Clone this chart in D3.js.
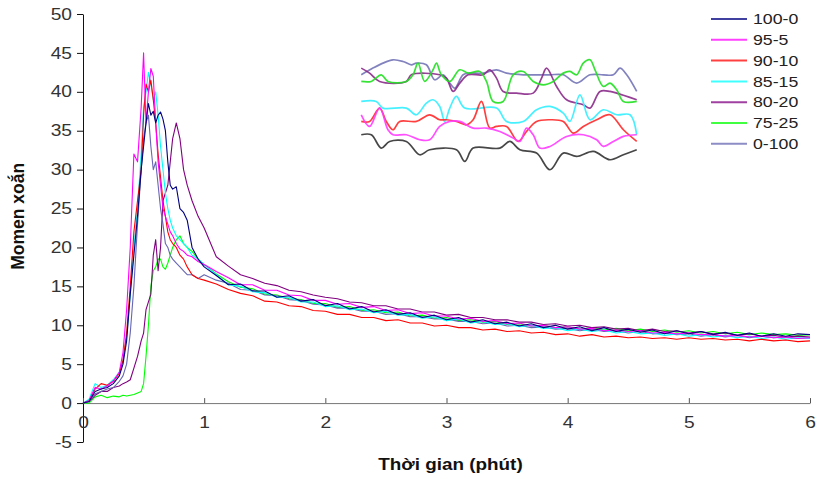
<!DOCTYPE html>
<html>
<head>
<meta charset="utf-8">
<script src="https://cdn.jsdelivr.net/npm/d3@7"></script>
<style>
  body { margin: 0; background: #fff; }
  svg { display: block; font-family: "Liberation Sans", Arial, sans-serif; }
</style>
</head>
<body>
<svg id="chart" width="817" height="479"></svg>
<script>
// time axis (minutes): dense around the peak, every 0.1 min in the tail
const riseTime = [0,0.05,0.1,0.15,0.2,0.25,0.3,0.33,0.36,0.39,0.42,0.45,0.48,0.5,0.52,0.54,0.56,0.58,0.6,0.62,0.64,0.66,0.68,0.7,0.72,0.74,0.77,0.8,0.83,0.86,0.9,0.95,1.0];
const tailTime = [1.1,1.2,1.3,1.4,1.5,1.6,1.7,1.8,1.9,2.0,2.1,2.2,2.3,2.4,2.5,2.6,2.7,2.8,2.9,3.0,3.1,3.2,3.3,3.4,3.5,3.6,3.7,3.8,3.9,4.0,
  4.1,4.2,4.3,4.4,4.5,4.6,4.7,4.8,4.9,5.0,5.1,5.2,5.3,5.4,5.5,5.6,5.7,5.8,5.9,6.0];
const time = riseTime.concat(tailTime);

// torque values, one per time point
const v100_0 = [0,0.2,1.5,1.8,2,2.5,3.5,5,8,14,19,24,30,33,36,38.5,37,37.5,36,37,37.4,36.5,35,31,28,27.5,27.8,25,24.5,23.5,20,18.5,17.5,
  16.4,15.2,15.3,14.4,14.4,13.6,13.8,13.1,13.3,12.5,12.8,12.1,12.4,11.7,12.0,11.4,11.6,11.0,11.3,10.7,11.0,10.4,10.7,10.2,10.4,9.9,10.2,9.7,10.0,9.5,
  9.8,9.3,9.7,9.2,9.5,9.1,9.4,8.9,9.3,8.9,9.2,8.8,9.1,8.7,9.0,8.6,8.9,8.6,8.9,8.8];
const v95_5 = [0,0.3,2,1.8,2.2,2.8,4,6.5,12,20,32,31,38,45,36,40,43,42,36,31,28,25,24,23,22,21.5,20.5,19.8,19.5,19,18.8,18.2,17.8,
  16.9,16.1,15.2,15.2,14.5,14.5,13.9,13.8,13.2,13.2,12.7,12.8,12.3,12.4,11.9,12.0,11.5,11.6,11.2,11.2,10.8,10.9,10.5,10.6,10.2,10.3,9.9,10.0,9.7,9.8,
  9.5,9.6,9.3,9.4,9.2,9.3,9.0,9.1,8.9,9.0,8.8,8.8,8.6,8.7,8.5,8.6,8.4,8.5,8.3,8.4];
const v90_10 = [0,0.3,1.8,2.5,2.3,2.8,3.8,5.5,9,15,22,26,30,37,41,40,41.5,39,36,32,29,26,24,22,21,20.5,20,19,18.5,17.5,16.5,16,15.8,
  15.3,14.6,14.1,13.8,13.1,13.0,12.5,12.4,11.9,11.8,11.4,11.4,11.0,11.0,10.6,10.7,10.3,10.3,9.9,10.0,9.7,9.7,9.4,9.5,9.2,9.3,9.0,9.1,8.8,8.9,
  8.6,8.8,8.5,8.6,8.4,8.5,8.3,8.4,8.2,8.4,8.2,8.3,8.1,8.2,8.0,8.2,8.0,8.1,7.9,8.0];
const v85_15 = [0,0.5,2.5,2,2.3,3,4,5.5,8.5,14,20,25,32,38,40,42.5,41,39,40,37,33,30,27,25,23.5,22.5,21.5,21,20.5,20,19,18.5,17.8,
  16.5,15.2,15.0,14.3,14.2,13.6,13.6,13.0,13.0,12.4,12.5,12.0,12.1,11.6,11.8,11.3,11.4,10.9,11.1,10.6,10.8,10.3,10.5,10.1,10.2,9.8,10.0,9.6,9.7,9.3,
  9.5,9.2,9.4,9.0,9.2,8.9,9.0,8.7,8.9,8.6,8.8,8.5,8.7,8.4,8.6,8.3,8.5,8.2,8.4,8.3];
const v80_20 = [0,0.2,1,1.5,1.5,2,2.2,2.5,2.7,3,4.5,6,8,9,12,13,14,19,21,17,20,26,27,28,31,34,36,34,30,28,26,24,22.5,
  18.8,17.6,16.5,16.0,15.4,15.1,14.5,14.3,13.9,13.6,13.4,13.0,12.9,12.5,12.5,12.1,12.1,11.7,11.7,11.3,11.4,11.0,11.0,10.7,10.7,10.4,10.4,10.1,10.2,9.9,
  10.0,9.7,9.8,9.5,9.6,9.3,9.5,9.2,9.3,9.0,9.2,8.9,9.0,8.7,8.9,8.6,8.7,8.5,8.6,8.5];
const v75_25 = [0,0,0.8,1,0.7,0.9,0.8,1,0.9,1,1.1,1.3,1.5,2.5,6,10,15,17,17.5,18.5,18.5,17.5,17.2,18,19,20,21,21.5,20.5,20,19.5,18.5,17.8,
  16.6,15.6,14.9,14.7,14.0,13.9,13.4,13.3,12.8,12.8,12.3,12.4,11.9,12.0,11.6,11.7,11.2,11.3,10.9,11.0,10.6,10.7,10.4,10.5,10.1,10.2,9.9,10.0,9.7,9.8,
  9.5,9.7,9.4,9.6,9.3,9.5,9.2,9.4,9.1,9.3,9.0,9.2,8.9,9.1,8.8,9.0,8.8,8.9,8.7,8.8];
const v0_100 = [0,0.2,1.2,1.5,1.8,2,2.8,3.5,5,9,15,23,30,34,36,37,33,30,31,28,25,23,20.5,20,19,18.5,18,17.5,17,16.5,16.5,16,16.5,
  15.8,15.4,14.6,14.5,13.9,13.8,13.3,13.2,12.7,12.6,12.2,12.2,11.8,11.8,11.4,11.5,11.1,11.1,10.8,10.8,10.5,10.5,10.2,10.3,9.9,10.0,9.7,9.8,9.5,9.6,
  9.3,9.5,9.2,9.3,9.0,9.2,8.9,9.0,8.8,8.9,8.6,8.8,8.5,8.7,8.4,8.6,8.4,8.5,8.3,8.4];

const seriesNames = ["100-0","95-5","90-10","85-15","80-20","75-25","0-100"];
const seriesValues = [v100_0, v95_5, v90_10, v85_15, v80_20, v75_25, v0_100];
const seriesColors = ["#000080","#ff00ff","#ff0000","#00ffff","#800080","#00ff00","#6666b3"];
const drawOrder = [5, 4, 6, 3, 2, 1, 0];

const yTicks = [-5,0,5,10,15,20,25,30,35,40,45,50];
const xTicks = [0,1,2,3,4,5,6];

// wavy decoration pasted inside the plot (own units: 0-860 across, 0-390 down)
const waveBlack = [[35,255],[65,255],[95,295],[120,275],[170,275],[210,315],[240,300],[320,300],[345,335],[370,295],[450,295],[480,275],[510,300],[560,310],[600,360],[640,310],[680,320],[730,305],[780,330],[820,315],[860,300]];
const waveMagenta = [[35,195],[60,230],[90,175],[115,240],[130,255],[170,255],[210,270],[240,270],[270,230],[300,215],[330,215],[370,235],[410,235],[450,245],[490,265],[510,275],[530,235],[550,255],[570,295],[600,290],[650,260],[700,255],[740,270],[760,290],[790,275],[820,260],[860,255]];
const waveRed = [[35,215],[60,215],[90,175],[110,215],[130,240],[150,215],[200,215],[240,195],[270,210],[290,210],[320,215],[350,225],[370,210],[395,155],[420,235],[440,230],[470,230],[505,275],[530,245],[560,215],[600,210],[640,215],[670,250],[700,230],[740,210],[780,195],[820,240],[860,275]];
const waveCyan = [[35,155],[80,155],[100,175],[170,175],[200,195],[230,160],[250,150],[270,170],[285,215],[300,175],[320,140],[345,175],[440,175],[470,215],[520,215],[560,180],[600,170],[640,190],[660,215],[690,135],[720,210],[760,180],[800,195],[840,195],[860,255]];
const waveGreen = [[35,95],[65,95],[95,75],[115,95],[170,95],[190,75],[205,40],[225,95],[250,60],[260,40],[275,75],[300,95],[330,60],[355,70],[390,65],[410,95],[430,155],[460,155],[490,75],[520,65],[550,95],[580,105],[610,95],[640,70],[660,65],[680,75],[700,40],[720,30],[735,60],[760,110],[780,100],[800,120],[820,155],[860,155]];
const wavePurple = [[35,55],[60,70],[90,95],[170,95],[185,75],[270,75],[290,85],[310,125],[330,100],[355,75],[400,75],[420,60],[440,85],[460,125],[500,130],[550,130],[575,85],[590,55],[620,110],[650,150],[700,165],[720,175],[750,125],[780,125],[800,130],[860,150]];
const waveSlate = [[35,75],[70,55],[100,40],[130,30],[160,35],[185,45],[200,40],[230,45],[255,90],[280,75],[300,100],[315,115],[340,75],[360,70],[400,70],[440,60],[470,70],[520,75],[560,75],[600,75],[640,75],[680,100],[720,75],[760,75],[790,75],[810,55],[830,75],[860,125]];
const waves = [waveSlate, wavePurple, waveGreen, waveCyan, waveRed, waveMagenta, waveBlack];
const waveColors = ["#7474b8","#8a2a8a","#22e022","#33eeff","#ff2a2a","#ff3cff","#333333"];

const svg = d3.select("#chart");
const margin = {top: 14, right: 7, bottom: 37, left: 83};
const W = 817, H = 479;

const x = d3.scaleLinear().domain([0, 6]).range([margin.left, W - margin.right]);
const y = d3.scaleLinear().domain([-5, 50]).range([H - margin.bottom, margin.top]);

// y axis
const yAxis = svg.append("g")
  .attr("transform", `translate(${x(0)},0)`)
  .call(d3.axisLeft(y).tickValues(yTicks).tickFormat(d => String(d)).tickSize(6).tickSizeOuter(0).tickPadding(5));
yAxis.select(".domain").attr("stroke", "#111");
yAxis.selectAll(".tick line").attr("stroke", "#111");
yAxis.selectAll(".tick text")
  .attr("font-size", 16).attr("fill", "#333")
  .attr("x", -11 / 1.2)
  .attr("transform", "scale(1.2,1)");

// x axis sits on zero, ticks point up
const xAxis = svg.append("g")
  .attr("transform", `translate(0,${y(0)})`)
  .call(d3.axisBottom(x).tickValues(xTicks).tickFormat(d => String(d)).tickSizeInner(-5).tickSizeOuter(0).tickPadding(14));
xAxis.select(".domain").attr("stroke", "#777");
xAxis.selectAll(".tick line").attr("stroke", "#555");
xAxis.selectAll(".tick text")
  .attr("font-size", 16).attr("fill", "#333")
  .attr("transform", "scale(1.2,1)");

// axis titles
svg.append("text")
  .attr("transform", `translate(${(x(0) + x(6)) / 2 + 4},${H - 9}) scale(1.18,1)`)
  .attr("text-anchor", "middle")
  .attr("font-size", 16).attr("font-weight", "bold").attr("fill", "#111")
  .text("Thời gian (phút)");

svg.append("text")
  .attr("transform", `translate(24,${y(24)}) rotate(-90)`)
  .attr("text-anchor", "middle")
  .attr("font-size", 17.5).attr("font-weight", "bold").attr("fill", "#111")
  .text("Momen xoắn");

// data lines
const line = d3.line()
  .x((d, i) => x(time[i]))
  .y(d => y(d))
  .defined(d => d != null);

svg.append("g").selectAll("path")
  .data(drawOrder)
  .join("path")
  .attr("d", i => line(seriesValues[i]))
  .attr("fill", "none")
  .attr("stroke", i => seriesColors[i])
  .attr("stroke-width", 1.1)
  .attr("stroke-linejoin", "round");

// wavy inset
const insetX = d3.scaleLinear().domain([0, 860]).range([x(2.2), x(4.57)]);
const insetY = d3.scaleLinear().domain([0, 390]).range([y(45.4), y(28.7)]);
const waveLine = d3.line()
  .x(d => insetX(d[0]))
  .y(d => insetY(d[1]))
  .curve(d3.curveCatmullRom.alpha(0.5));

svg.append("g").selectAll("path")
  .data(waves)
  .join("path")
  .attr("d", waveLine)
  .attr("fill", "none")
  .attr("stroke", (d, i) => waveColors[i])
  .attr("stroke-width", 1.7)
  .attr("stroke-opacity", 0.9);

// legend
const legend = svg.append("g").attr("transform", "translate(711,19)");
const rows = legend.selectAll("g")
  .data(seriesNames)
  .join("g")
  .attr("transform", (d, i) => `translate(0,${i * 20.8})`);
rows.append("line")
  .attr("x1", 0).attr("x2", 36)
  .attr("stroke", (d, i) => seriesColors[i])
  .attr("stroke-width", 2)
  .attr("stroke-opacity", 0.75);
rows.append("text")
  .attr("transform", "translate(42,0) scale(1.18,1)")
  .attr("dy", "0.35em")
  .attr("font-size", 15).attr("fill", "#222")
  .text(d => d);
</script>
</body>
</html>
